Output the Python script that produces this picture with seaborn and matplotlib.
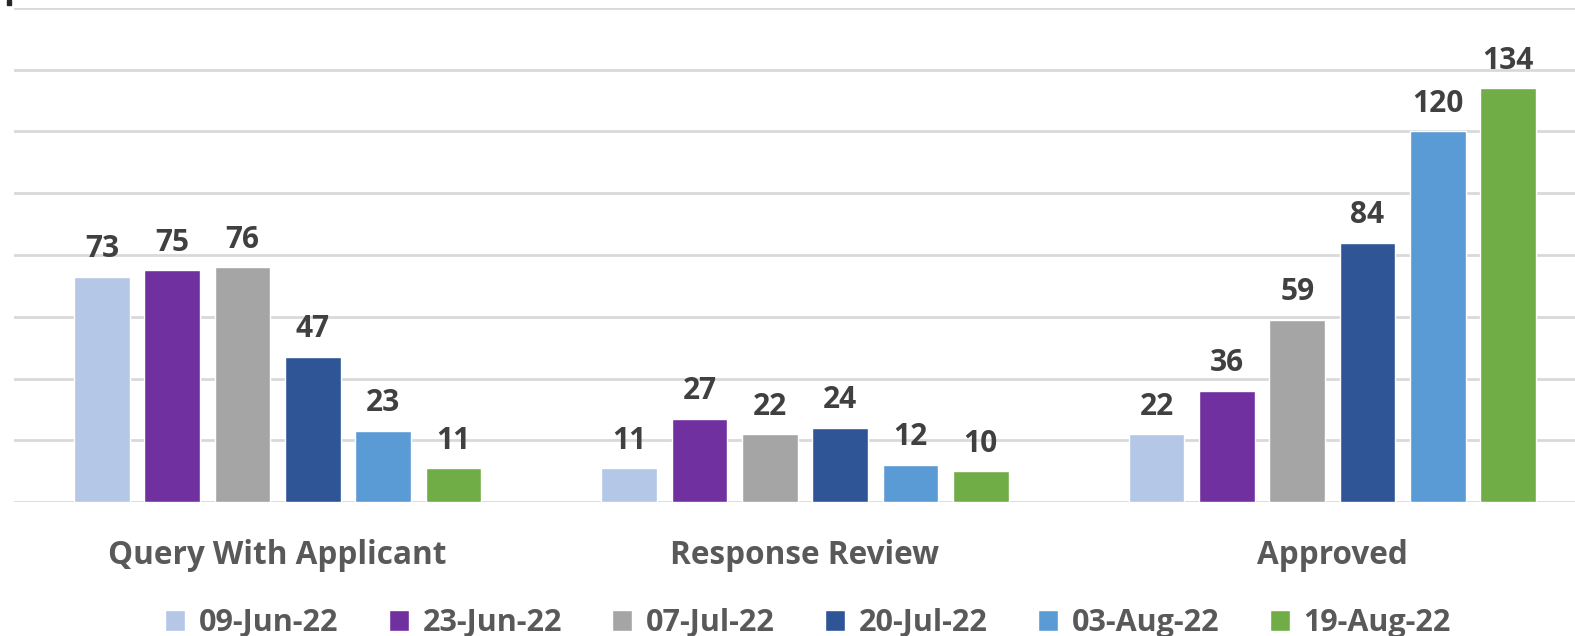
import pandas as pd
import matplotlib.pyplot as plt
import seaborn as sns

# data
categories = ["Query With Applicant", "Response Review", "Approved"]
dates = ["09-Jun-22", "23-Jun-22", "07-Jul-22", "20-Jul-22", "03-Aug-22", "19-Aug-22"]
vals_0609 = [73, 11, 22]
vals_0623 = [75, 27, 36]
vals_0707 = [76, 22, 59]
vals_0720 = [47, 24, 84]
vals_0803 = [23, 12, 120]
vals_0819 = [11, 10, 134]
colors = ["#B4C7E7", "#7030A0", "#A5A5A5", "#2F5597", "#5B9BD5", "#70AD47"]

series = [vals_0609, vals_0623, vals_0707, vals_0720, vals_0803, vals_0819]
rows = []
for d, vals in zip(dates, series):
    for c, v in zip(categories, vals):
        rows.append({"category": c, "date": d, "count": v})
df = pd.DataFrame(rows)

sns.set_style("white")
plt.rcParams["font.family"] = ["Open Sans", "DejaVu Sans"]

fig = plt.figure(figsize=(15.75, 6.36), dpi=100)
ax = fig.add_axes([14 / 1575, 134 / 636, 1582 / 1575, 494 / 636])

sns.barplot(data=df, x="category", y="count", hue="date", order=categories,
            hue_order=dates, palette=colors, width=0.8, gap=0.21,
            saturation=1, ax=ax, legend=True)

ax.set_ylim(0, 160)
ax.set_yticks(range(0, 161, 20))
ax.yaxis.grid(True, color="#D9D9D9", linewidth=2)
ax.set_axisbelow(True)
for s in ax.spines.values():
    s.set_visible(False)
ax.tick_params(axis="y", left=False, labelleft=False)
ax.tick_params(axis="x", bottom=False, pad=23)
ax.set_xlabel("")
ax.set_ylabel("")
for lab in ax.get_xticklabels():
    lab.set_fontsize(22.7)
    lab.set_fontweight("bold")
    lab.set_color("#595959")

for cont in ax.containers:
    ax.bar_label(cont, padding=9, fontsize=21.5, fontweight="bold", color="#404040")

handles, labels = ax.get_legend_handles_labels()
ax.legend_.remove()
fig.legend(handles, labels, loc="lower center", bbox_to_anchor=(0.513, -0.047),
           ncol=6, frameon=False, handlelength=0.65, handleheight=0.65,
           handletextpad=0.45, columnspacing=1.65,
           prop={"size": 22, "weight": "bold"}, labelcolor="#595959")

# small dark mark in top-left corner
fig.patches.append(plt.Rectangle((7 / 1575, 631 / 636), 4 / 1575, 5 / 636,
                                 transform=fig.transFigure, color="#262626"))

fig.savefig("out.png", dpi=100)
